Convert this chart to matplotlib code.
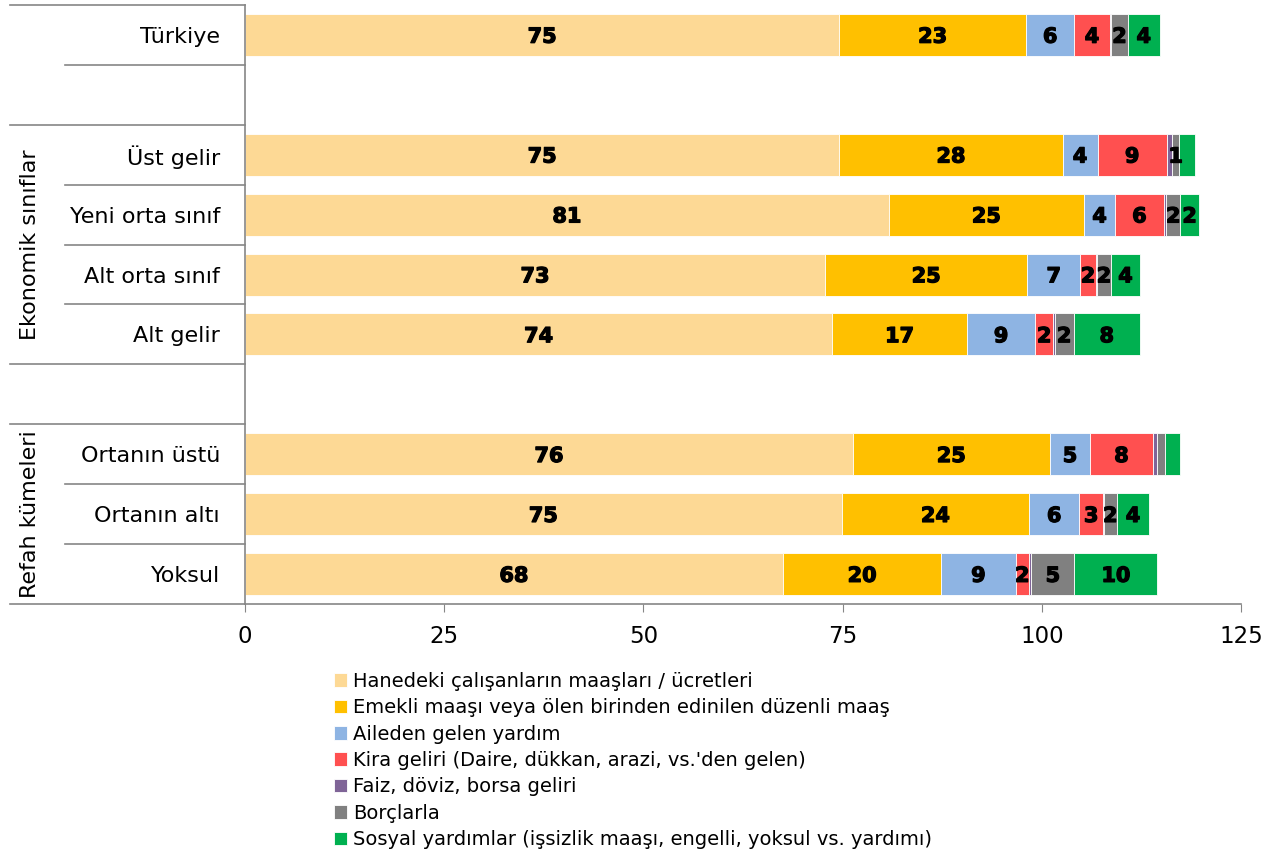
import matplotlib
matplotlib.use('Agg')
import matplotlib.pyplot as plt
import matplotlib.patheffects as pe
import numpy as np

plt.rcParams['font.family'] = ['DejaVu Sans']

# top to bottom; blank rows are gaps between groups
categories = ['Türkiye', '', 'Üst gelir', 'Yeni orta sınıf', 'Alt orta sınıf', 'Alt gelir',
              '', 'Ortanın üstü', 'Ortanın altı', 'Yoksul']

maas = [74.6, 0, 74.6, 80.8, 72.8, 73.7, 0, 76.3, 74.9, 67.5]
emekli = [23.4, 0, 28.0, 24.5, 25.4, 16.9, 0, 24.7, 23.5, 19.9]
aile = [6.1, 0, 4.4, 3.9, 6.6, 8.6, 0, 5.1, 6.3, 9.3]
kira = [4.4, 0, 8.7, 6.1, 2.0, 2.2, 0, 7.8, 3.0, 1.7]
faiz = [0.2, 0, 0.7, 0.3, 0.1, 0.2, 0, 0.6, 0.1, 0.3]
borc = [2.1, 0, 0.8, 1.8, 1.8, 2.4, 0, 1.0, 1.6, 5.4]
sosyal = [4.0, 0, 2.0, 2.3, 3.6, 8.3, 0, 1.8, 4.1, 10.4]

lbl_maas = ['75', '', '75', '81', '73', '74', '', '76', '75', '68']
lbl_emekli = ['23', '', '28', '25', '25', '17', '', '25', '24', '20']
lbl_aile = ['6', '', '4', '4', '7', '9', '', '5', '6', '9']
lbl_kira = ['4', '', '9', '6', '2', '2', '', '8', '3', '2']
lbl_faiz = [''] * 10
lbl_borc = ['2', '', '1', '2', '2', '2', '', '', '2', '5']
lbl_sosyal = ['4', '', '', '2', '4', '8', '', '', '4', '10']

series_names = [
    'Hanedeki çalışanların maaşları / ücretleri',
    'Emekli maaşı veya ölen birinden edinilen düzenli maaş',
    'Aileden gelen yardım',
    "Kira geliri (Daire, dükkan, arazi, vs.'den gelen)",
    'Faiz, döviz, borsa geliri',
    'Borçlarla',
    'Sosyal yardımlar (işsizlik maaşı, engelli, yoksul vs. yardımı)',
]
colors = ['#FDD995', '#FFC000', '#8EB4E3', '#FF5050', '#7F6497', '#808080', '#00B050']

groups = [('Ekonomik sınıflar', 2, 5), ('Refah kümeleri', 7, 9)]

series = [maas, emekli, aile, kira, faiz, borc, sosyal]
labels = [lbl_maas, lbl_emekli, lbl_aile, lbl_kira, lbl_faiz, lbl_borc, lbl_sosyal]

fig = plt.figure(figsize=(12.8, 8.49), dpi=100)
ax = fig.add_axes([245 / 1280, 1 - 604 / 849, 996 / 1280, 599 / 849])

bold = [pe.withStroke(linewidth=0.9, foreground='black')]

y = np.arange(len(categories))
left = np.zeros(len(categories))
for vals, lbls, name, col in zip(series, labels, series_names, colors):
    vals = np.array(vals, dtype=float)
    ax.barh(y, vals, left=left, height=0.7, color=col, edgecolor='white',
            linewidth=0.6, label=name)
    for yi, (v, l, t) in enumerate(zip(vals, left, lbls)):
        if t:
            ax.text(l + v / 2, yi + 0.03, t, ha='center', va='center', fontsize=15,
                    fontweight='bold', color='black', path_effects=bold)
    left += vals

ax.set_ylim(len(categories) - 0.5, -0.5)
ax.set_xlim(0, 125)
ax.set_xticks([0, 25, 50, 75, 100, 125])
ax.tick_params(axis='x', labelsize=16.5, length=6, color='#868686', pad=9)
ax.set_yticks(y)
ax.set_yticklabels(categories, fontsize=16)
ax.tick_params(axis='y', length=0, pad=18)

for s in ['top', 'right']:
    ax.spines[s].set_visible(False)
for s in ['left', 'bottom']:
    ax.spines[s].set_color('#868686')
    ax.spines[s].set_linewidth(1.2)

# multi-level category lines
tr = ax.get_yaxis_transform()
x_full = -235 / 996
x_short = -180 / 996
group_edges = {-0.5, 1.5, 5.5, 6.5, 9.5}
for b in np.arange(-0.5, len(categories), 1.0):
    x0 = x_full if b in group_edges else x_short
    ax.plot([x0, 0], [b, b], transform=tr, color='#868686', lw=1.2, clip_on=False)

for name, g0, g1 in groups:
    ax.text(-215 / 996, (g0 + g1) / 2, name, transform=tr, rotation=90,
            ha='center', va='center', fontsize=16)

handles, names = ax.get_legend_handles_labels()
fig.legend(handles, names, loc='upper left', bbox_to_anchor=(326 / 1280, 1 - 664 / 849),
           frameon=False, fontsize=14, handlelength=0.7, handleheight=0.7,
           handletextpad=0.3, labelspacing=0.38, borderaxespad=0)

fig.savefig('out.png', dpi=100)
